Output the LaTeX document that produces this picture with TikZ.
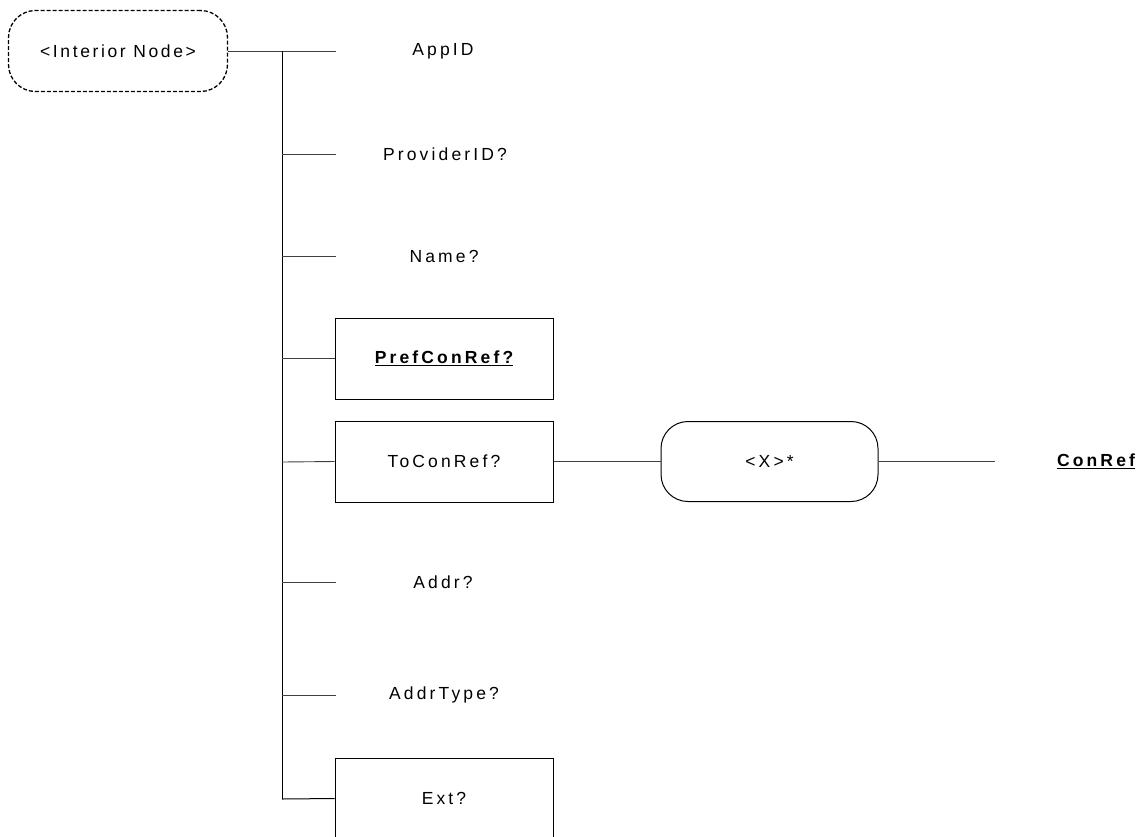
\documentclass[tikz,border=0pt]{standalone}
\usepackage{fontspec}
\setmainfont{Liberation Sans}
\newfontfamily\spaced[LetterSpace=18]{Liberation Sans}
\newfontfamily\spacedint[LetterSpace=15]{Liberation Sans}
\begin{document}
\begin{tikzpicture}[x=1pt,y=-1pt,
  lbl/.style={font=\spaced\fontsize{17.5}{20}\selectfont, inner sep=0pt},
  leafbox/.style={draw, line width=1pt, minimum width=218pt, minimum height=81pt, inner sep=0pt, font=\spaced\fontsize{17.5}{20}\selectfont},
  roundbox/.style={draw, line width=1pt, rounded corners=27pt, minimum width=217pt, minimum height=80pt, inner sep=0pt, font=\spaced\fontsize{17.5}{20}\selectfont},
  dashbox/.style={draw, line width=1.3pt, dash pattern=on 4pt off 2pt, rounded corners=27pt, minimum width=219pt, minimum height=81pt, inner sep=0pt, font=\spacedint\fontsize{17.5}{20}\selectfont},
  conn/.style={line width=0.9pt, black!75}
]
\useasboundingbox (0,0) rectangle (1142,836);

\node[dashbox] (int) at (118,51) {<Interior Node>};

% junctions on the trunk
\coordinate (j1) at (282,51);
\coordinate (j2) at (282,154);
\coordinate (j3) at (282,256);
\coordinate (j4) at (282,358.5);
\coordinate (j5) at (282,462);
\coordinate (j6) at (282,582);
\coordinate (j7) at (282,695);
\coordinate (j8) at (282,799);

% branch ends for plain labels
\coordinate (e1) at (336,51);
\coordinate (e2) at (336,154);
\coordinate (e3) at (336,256);
\coordinate (e6) at (336,582);
\coordinate (e7) at (336,695);

\node[lbl] (app) at (443,51) {AppID};
\node[lbl] (prov) at (445,154) {ProviderID?};
\node[lbl] (name) at (444,256) {Name?};
\node[leafbox] (pref) at (444,358.5) {\bfseries\underline{PrefConRef?}};
\node[leafbox] (tocon) at (444,461.5) {ToConRef?};
\node[lbl] (addr) at (443,582) {Addr?};
\node[lbl] (atype) at (444,695) {AddrType?};
\node[leafbox] (ext) at (444,798.5) {Ext?};

\node[roundbox] (x) at (769.5,461.5) {<X>*};
\coordinate (cend) at (995,461.5);
\node[lbl] (conref) at (1096,461.5) {\bfseries\underline{ConRef}};

% connectors
\draw[conn] (int.east) -- (e1);
\draw[line width=1pt] (j1) -- (j8);
\draw[conn] (j2) -- (e2);
\draw[conn] (j3) -- (e3);
\draw[conn] (j4) -- (pref.west);
\draw[conn] (j5) -- (tocon.west);
\draw[conn] (j6) -- (e6);
\draw[conn] (j7) -- (e7);
\draw[line width=1pt] (j8) -- (ext.west);
\draw[conn] (tocon.east) -- (x.west);
\draw[conn] (x.east) -- (cend);
\end{tikzpicture}
\end{document}
